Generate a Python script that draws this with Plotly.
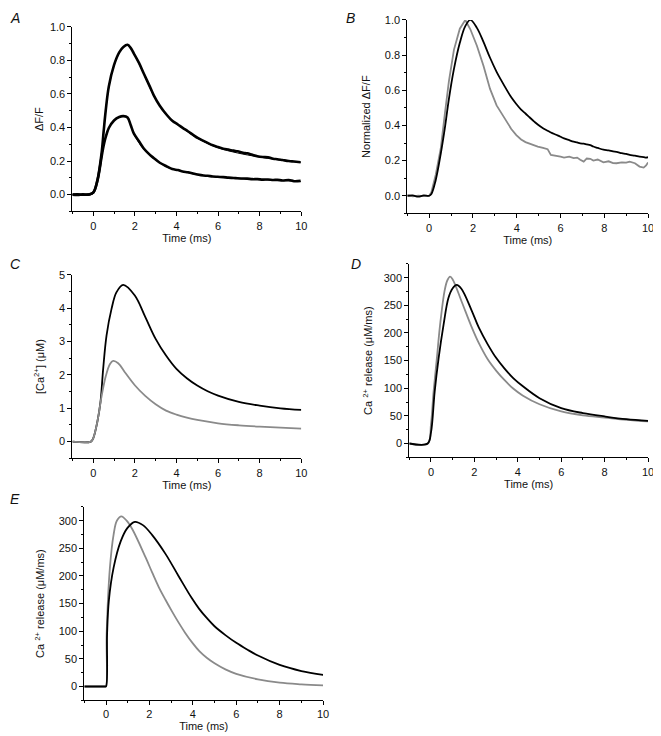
import plotly.graph_objects as go

# ---- panel A: dF/F, two stimuli, data (thick) + fit (thin)
t_a_fit = [-1, -0.1, 0, 0.2, 0.4, 0.5, 0.6, 0.75, 1.0, 1.25, 1.45, 1.65, 1.95, 2.43, 2.91,
           3.55, 4.07, 4.42, 5.02, 5.98, 6.94, 7.89, 8.85, 9.97]
a_big_fit = [0, 0, 0.01, 0.08, 0.24, 0.37, 0.5, 0.64, 0.77, 0.845, 0.878, 0.89, 0.84, 0.72, 0.59,
             0.47, 0.415, 0.385, 0.335, 0.28, 0.248, 0.226, 0.208, 0.192]
a_small_fit = [0, 0, 0.01, 0.08, 0.22, 0.29, 0.34, 0.395, 0.44, 0.462, 0.466, 0.458, 0.362, 0.27, 0.215,
               0.164, 0.144, 0.134, 0.118, 0.105, 0.095, 0.09, 0.085, 0.078]

t_a_data = [-1, -0.75, -0.5, -0.25, 0, 0.2, 0.4, 0.5, 0.6, 0.75, 1.0, 1.25, 1.45, 1.65, 1.8, 1.95,
            2.2, 2.43, 2.7, 2.91, 3.2, 3.55, 3.8, 4.07, 4.3, 4.55, 4.8, 5.02, 5.3, 5.5, 5.75, 5.98,
            6.25, 6.5, 6.75, 6.94, 7.2, 7.4, 7.65, 7.89, 8.15, 8.4, 8.65, 8.85, 9.1, 9.4, 9.65, 9.97]
a_big_data = [0.0, -0.002, 0.001, 0.0, 0.012, 0.085, 0.245, 0.375, 0.5, 0.645, 0.772, 0.848, 0.88, 0.893, 0.875, 0.842,
              0.785, 0.722, 0.65, 0.592, 0.53, 0.473, 0.44, 0.418, 0.398, 0.378, 0.356, 0.338, 0.32, 0.308, 0.294, 0.284,
              0.274, 0.268, 0.262, 0.258, 0.25, 0.246, 0.237, 0.229, 0.224, 0.222, 0.214, 0.211, 0.206, 0.2, 0.197, 0.193]
a_small_data = [0.0, 0.001, -0.001, 0.0, 0.012, 0.082, 0.222, 0.292, 0.342, 0.397, 0.442, 0.463, 0.468, 0.46, 0.415, 0.365,
                0.318, 0.275, 0.24, 0.218, 0.19, 0.167, 0.152, 0.146, 0.138, 0.133, 0.126, 0.12, 0.114, 0.112, 0.108, 0.106,
                0.104, 0.101, 0.099, 0.097, 0.096, 0.095, 0.092, 0.092, 0.089, 0.09, 0.087, 0.088, 0.084, 0.087, 0.08, 0.082]

# ---- panel B: normalized dF/F
t_b = [-1, -0.75, -0.5, -0.25, 0, 0.1, 0.3, 0.53, 0.71, 0.9, 1.13, 1.4, 1.65, 1.88, 2.18, 2.48, 2.78,
       3.08, 3.3, 3.53, 3.75, 3.98, 4.2, 4.4, 4.58, 4.8, 4.96, 5.2, 5.41, 5.56, 5.8, 6.0, 6.16, 6.4,
       6.6, 6.76, 6.9, 7.06, 7.2, 7.36, 7.5, 7.7, 7.96, 8.2, 8.4, 8.56, 8.8, 9.0, 9.16, 9.4, 9.61,
       9.8, 9.91, 10.0]
b_black = [0.0, 0.002, -0.005, 0.002, 0.0, 0.01, 0.09, 0.24, 0.38, 0.55, 0.72, 0.87, 0.965, 1.0, 0.955, 0.875, 0.785,
           0.705, 0.655, 0.605, 0.56, 0.522, 0.49, 0.468, 0.447, 0.422, 0.405, 0.384, 0.37, 0.36, 0.347, 0.336, 0.326, 0.316,
           0.308, 0.303, 0.298, 0.296, 0.292, 0.288, 0.28, 0.272, 0.262, 0.258, 0.252, 0.25, 0.242, 0.238, 0.232, 0.228, 0.222,
           0.22, 0.217, 0.22]
b_gray = [0.002, -0.003, 0.001, -0.002, 0.0, 0.02, 0.12, 0.27, 0.46, 0.65, 0.83, 0.95, 1.0, 0.947, 0.853, 0.74, 0.608,
          0.514, 0.47, 0.42, 0.38, 0.345, 0.32, 0.305, 0.297, 0.285, 0.279, 0.272, 0.265, 0.232, 0.228, 0.222, 0.217, 0.222,
          0.214, 0.217, 0.205, 0.194, 0.212, 0.21, 0.2, 0.206, 0.19, 0.196, 0.186, 0.185, 0.19, 0.188, 0.194, 0.185, 0.166,
          0.16, 0.172, 0.19]

# ---- panel C: [Ca2+]
t_c_black = [-1, -0.11, 0, 0.2, 0.35, 0.48, 0.64, 0.88, 1.12, 1.44, 2.0, 2.5, 3.0, 3.5, 4.0, 4.5, 5.0, 5.5, 6.0, 7.0, 8.0, 9.0, 10.0]
c_black = [0, 0, 0.1, 0.6, 1.19, 2.19, 3.18, 3.98, 4.48, 4.7, 4.38, 3.74, 3.08, 2.58, 2.18, 1.9, 1.68, 1.51, 1.38, 1.19, 1.08, 1.0, 0.95]
t_c_gray = [-1, -0.11, 0, 0.2, 0.4, 0.6, 0.8, 0.96, 1.2, 1.52, 2.0, 2.5, 3.0, 3.5, 4.0, 4.5, 5.0, 6.0, 7.0, 8.0, 9.0, 10.0]
c_gray = [0, 0, 0.1, 0.6, 1.35, 1.95, 2.32, 2.42, 2.35, 2.08, 1.69, 1.37, 1.12, 0.93, 0.81, 0.72, 0.65, 0.55, 0.49, 0.45, 0.42, 0.39]

# ---- panel D: Ca2+ release
t_d_black = [-1, -0.15, 0, 0.17, 0.35, 0.58, 0.8, 1.0, 1.18, 1.4, 1.86, 2.2, 2.62, 3.0, 3.38, 3.8, 4.22, 5.0, 6.0, 7.0, 8.0, 9.0, 10.0]
d_black = [0, 0, 20, 94, 154, 215, 263, 281, 287, 280, 242, 210, 179, 155, 136, 118, 104, 82, 64, 55, 49, 44, 41]
t_d_gray = [-1, -0.15, 0, 0.12, 0.27, 0.42, 0.62, 0.75, 0.88, 1.0, 1.41, 1.86, 2.2, 2.62, 3.0, 3.38, 3.8, 4.22, 5.0, 6.0, 7.0, 8.0, 9.0, 10.0]
d_gray = [0, 0, 35, 94, 154, 215, 275, 295, 302, 297, 257, 212, 182, 152, 132, 115, 99, 87, 71, 58, 51, 47, 43, 40]

# ---- panel E: Ca2+ release (model)
t_e_black = [-1, -0.05, 0, 0.05, 0.13, 0.35, 0.68, 0.99, 1.33, 1.7, 2.13, 2.74, 3.34, 3.95, 4.3, 4.64,
             5.0, 5.5, 6.0, 6.5, 7.0, 8.0, 9.0, 10.0]
e_black = [0, 0, 0, 95, 155, 215, 263, 287, 298, 292, 274, 240, 200, 160, 140, 124, 109, 93, 79, 67, 56, 39, 28, 21]
t_e_gray = [-1, -0.05, 0, 0.03, 0.18, 0.35, 0.5, 0.71, 0.95, 1.22, 1.83, 2.13, 2.43, 2.74, 3.04, 3.34, 3.65,
            4.0, 4.3, 4.64, 5.0, 5.5, 6.0, 7.0, 8.0, 9.0, 10.0]
e_gray = [0, 0, 0, 95, 215, 275, 300, 308, 300, 284, 233, 206, 180, 157, 136, 116, 97, 78, 64, 52, 42, 31, 23, 13, 7, 4, 2]

BLACK = "#000000"
GRAY = "#8a8a8a"
OFF = 8  # the html body keeps its default 8 px margin
W, H = 661 - OFF, 736 - OFF


def dom_x(x0, x1):
    return [(x0 - OFF) / W, (x1 - OFF) / W]


def dom_y(top, bottom):
    return [1 - (bottom - OFF) / H, 1 - (top - OFF) / H]


fig = go.Figure()


def line(n, x, y, color, width, shape="spline"):
    ax = "" if n == 1 else str(n)
    fig.add_trace(go.Scatter(x=x, y=y, mode="lines", xaxis="x" + ax, yaxis="y" + ax,
                             line=dict(color=color, width=width, shape=shape, smoothing=1),
                             showlegend=False, hoverinfo="skip"))


line(1, t_a_data, a_big_data, BLACK, 2.6)
line(1, t_a_data, a_small_data, BLACK, 2.6)
line(1, t_a_fit, a_big_fit, BLACK, 1)
line(1, t_a_fit, a_small_fit, BLACK, 1)
line(2, t_b, b_gray, GRAY, 1.8, "linear")
line(2, t_b, b_black, BLACK, 1.8)
line(3, t_c_black, c_black, BLACK, 1.8)
line(3, t_c_gray, c_gray, GRAY, 1.8)
line(4, t_d_gray, d_gray, GRAY, 1.8)
line(4, t_d_black, d_black, BLACK, 1.8)
line(5, t_e_gray, e_gray, GRAY, 1.8)
line(5, t_e_black, e_black, BLACK, 1.8)

font = dict(family="Liberation Sans, Arial, sans-serif", size=11, color="#111")
common = dict(showline=True, linecolor=BLACK, linewidth=1, showgrid=False, zeroline=False,
              ticks="outside", ticklen=4, tickwidth=1, tickcolor=BLACK, tickfont=font)

panels = [
    # n, x px, y px, y range, dtick, minor, tickformat, y title, title standoff
    (1, (73, 304), (21, 207), [-0.1, 1.0], 0.2, 0.1, ".1f", "ΔF/F", 4),
    (2, (411, 654), (14, 209), [-0.1, 1.0], 0.2, 0.1, ".1f", "Normalized ΔF/F", 11),
    (3, (73, 304), (271, 456), [-0.5, 5], 1, 0.5, "d", "[Ca<sup>2+</sup>] (μM)", 12),
    (4, (413, 654), (260, 455), [-25, 325], 50, 25, "d", "Ca <sup>2+</sup> release (μM/ms)", 8),
    (5, (85, 326), (505, 700), [-25, 325], 50, 25, "d", "Ca <sup>2+</sup> release (μM/ms)", 11),
]

layout = dict(width=W, height=H, margin=dict(l=0, r=0, t=0, b=0),
              paper_bgcolor="white", plot_bgcolor="white", font=font)
for n, xp, yp, yr, dt, mn, fmt, ytitle, so in panels:
    ax = "" if n == 1 else str(n)
    layout["xaxis" + ax] = dict(common, domain=dom_x(*xp), range=[-1, 10], dtick=2, tick0=0,
                                anchor="y" + ax,
                                minor=dict(ticks="outside", ticklen=2, dtick=1, tick0=0, tickcolor=BLACK),
                                title=dict(text="Time (ms)", font=font, standoff=1))
    layout["yaxis" + ax] = dict(common, domain=dom_y(*yp), range=yr, dtick=dt, tick0=0,
                                tickformat=fmt, anchor="x" + ax,
                                minor=dict(ticks="outside", ticklen=2, dtick=mn, tick0=0, tickcolor=BLACK),
                                title=dict(text=ytitle, font=font, standoff=so))
fig.update_layout(**layout)

# panel letters (page px of glyph centre); top ones are kept inside the figure
letters = [("A", 8, 12), ("B", 347, 12), ("C", 8, 260), ("D", 352, 260), ("E", 8, 497)]
for txt, x, y in letters:
    fig.add_annotation(text=f"<i>{txt}</i>", x=max(x - OFF, 0) / W, y=1 - (y - OFF) / H,
                       xref="paper", yref="paper",
                       showarrow=False, xanchor="left", yanchor="middle",
                       font=dict(family="Liberation Sans, Arial, sans-serif", size=14, color="#111"))

fig.write_html("out.html")
